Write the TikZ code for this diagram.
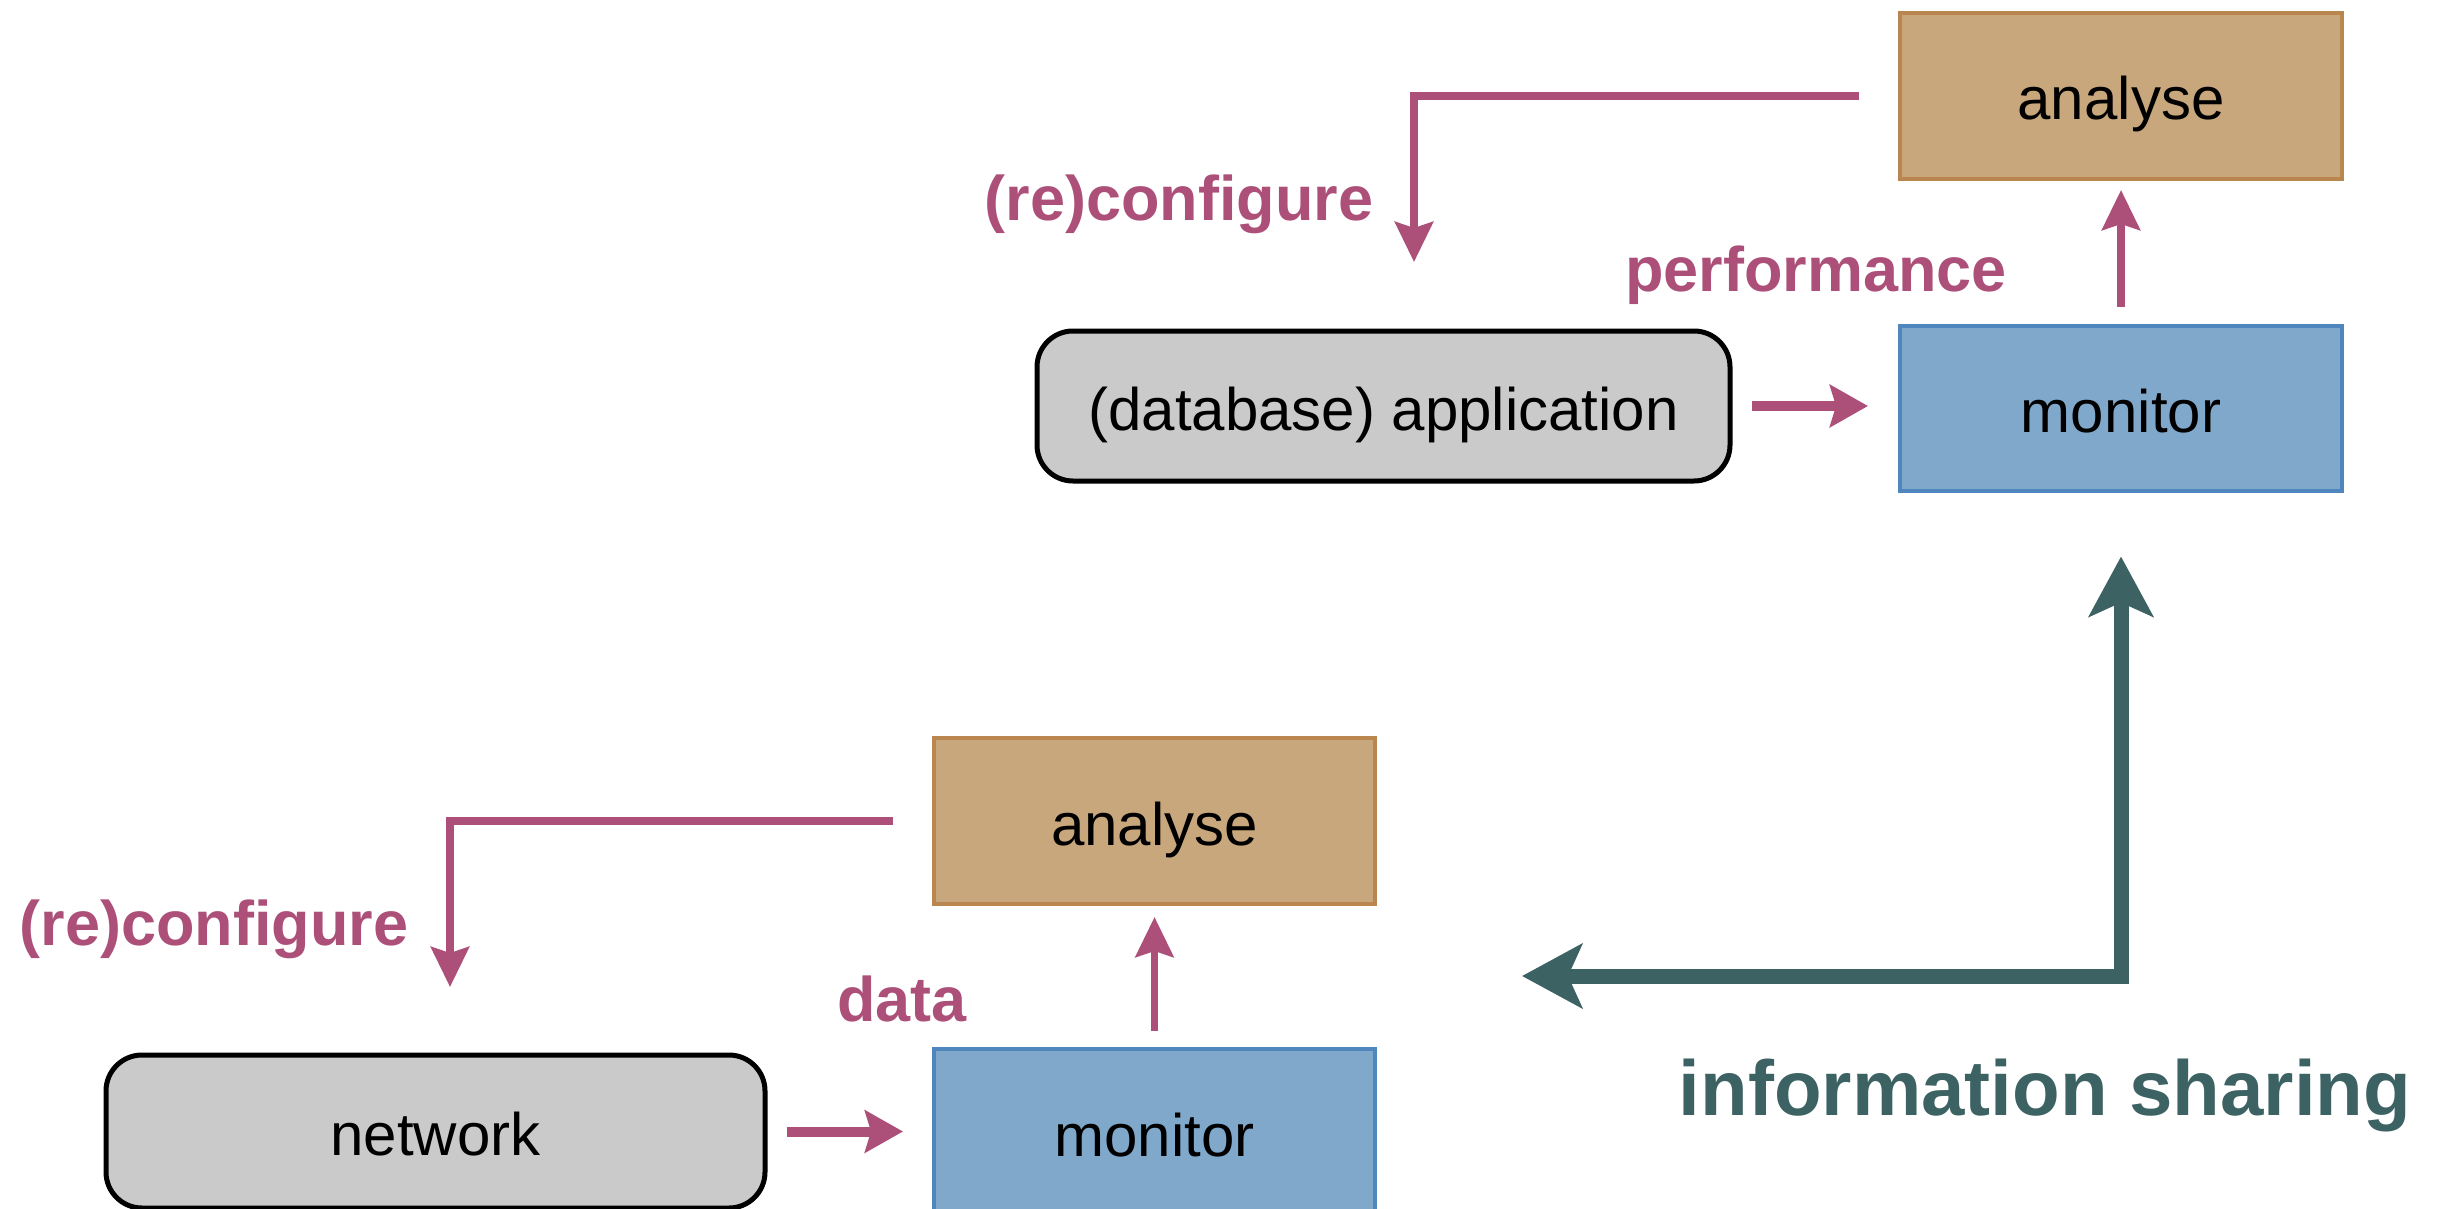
\documentclass[tikz,border=0pt]{standalone}
\usepackage{fontspec}
\setmainfont{Liberation Sans}
\usetikzlibrary{arrows.meta,positioning}
\definecolor{anafill}{HTML}{C9A77D}
\definecolor{anadraw}{HTML}{B8864E}
\definecolor{monfill}{HTML}{7FA8CA}
\definecolor{mondraw}{HTML}{4F86BD}
\definecolor{sysfill}{HTML}{CACACA}
\definecolor{mag}{HTML}{AD5079}
\definecolor{teal}{HTML}{3D6263}
\tikzset{
  boxtext/.style={font=\fontsize{60}{70}\selectfont, text=black, inner sep=0pt, text height=48pt, text depth=0pt},
  anabox/.style={boxtext, rectangle, fill=anafill, draw=anadraw, line width=4pt},
  monbox/.style={boxtext, rectangle, fill=monfill, draw=mondraw, line width=4pt},
  sysbox/.style={boxtext, rectangle, rounded corners=36pt, fill=sysfill, draw=black, line width=5pt},
  maglabel/.style={font=\bfseries\fontsize{63}{72}\selectfont, text=mag, inner sep=0pt},
  magarrow/.style={draw=mag, line width=7.5pt, -{Stealth[length=40pt, width=38pt, inset=6pt]}},
  thickmag/.style={draw=mag, line width=10pt, -{Stealth[length=38pt, width=42pt, inset=6pt]}},
  tealarrow/.style={draw=teal, line width=15pt, {Stealth[length=60pt, width=64pt, inset=14pt]}-{Stealth[length=60pt, width=64pt, inset=14pt]}},
}
\begin{document}
\begin{tikzpicture}[x=1pt, y=-1pt]
\useasboundingbox (0,0) rectangle (2448,1209);
% top system
\node[anabox, minimum width=442pt, minimum height=166pt] (ana1) at (2121,96) {analyse};
\node[monbox, minimum width=442pt, minimum height=165pt] (mon1) at (2121,408) {monitor};
\node[sysbox, minimum width=693pt, minimum height=150pt] (app) at (1383.5,406) {(database) application};
\coordinate (c1) at (1414,262);
\draw[magarrow, shorten <=39pt] (ana1.west) -| (c1);
\draw[thickmag, shorten <=19pt, shorten >=30pt] (app.east) -- (app.east -| mon1.west);
\draw[magarrow, shorten <=17pt, shorten >=9pt] (mon1.north) -- (ana1.south);
\node[maglabel] (rc1) at (1179,204) {(re)configure};
\node[maglabel] (perf) at (1816,275) {performance};
% bottom system
\node[anabox, minimum width=441pt, minimum height=166pt] (ana2) at (1154.5,821) {analyse};
\node[monbox, minimum width=441pt, minimum height=166pt] (mon2) at (1154.5,1132) {monitor};
\node[sysbox, minimum width=659pt, minimum height=153pt] (net) at (435.5,1131.5) {network};
\coordinate (c2) at (450,987);
\draw[magarrow, shorten <=39pt] (ana2.west) -| (c2);
\draw[thickmag, shorten <=19pt, shorten >=29pt] (net.east) -- (net.east -| mon2.west);
\draw[magarrow, shorten <=16pt, shorten >=11pt] (mon2.north) -- (ana2.south);
\node[maglabel] (rc2) at (214,929) {(re)configure};
\node[maglabel] (dat) at (902,999) {data};
% information sharing
\coordinate (g1) at (1522,976);
\draw[tealarrow, shorten >=64pt] (g1) -| (mon1.south);
\node[font=\bfseries\fontsize{78}{90}\selectfont, text=teal, inner sep=0pt] (info) at (2045,1095) {information sharing};
\end{tikzpicture}
\end{document}
